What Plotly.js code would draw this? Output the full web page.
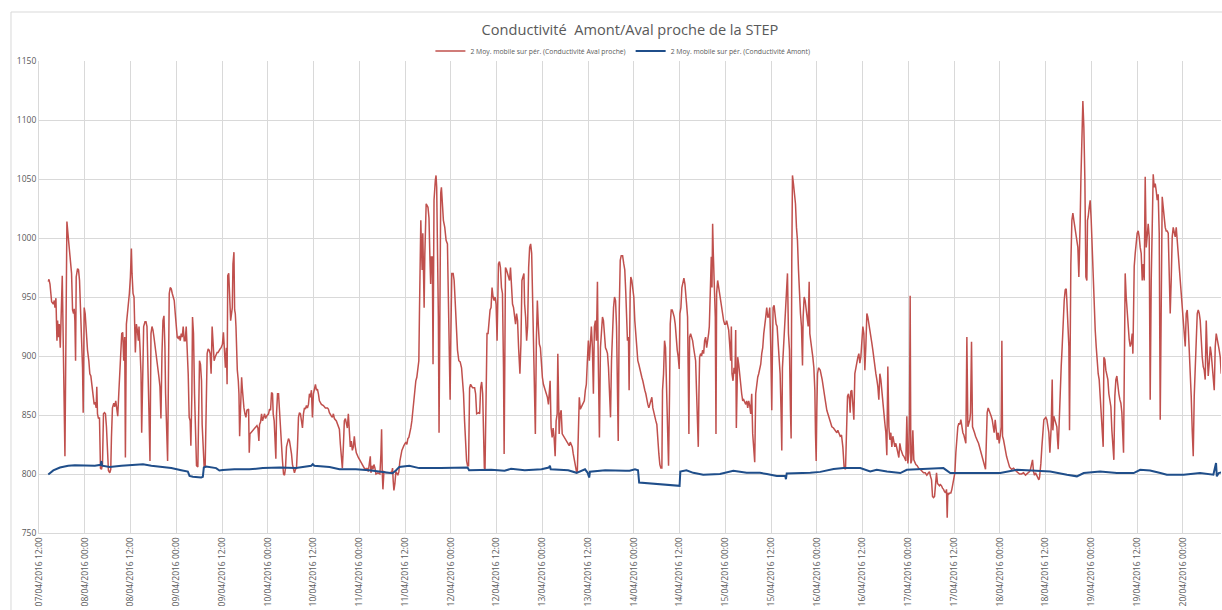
<!DOCTYPE html>
<html><head><meta charset="utf-8">
<script src="https://cdn.plot.ly/plotly-3.0.1.min.js"></script>
<style>html,body{margin:0;padding:0;background:#fff}#chart{width:1222px;height:610px}</style>
</head><body><div id="chart"></div>
<script>
const chartTitle = 'Conductivité\u00a0 Amont/Aval proche de la STEP';
const seriesNames = ['2 Moy. mobile sur pér. (Conductivité Aval proche)', '2 Moy. mobile sur pér. (Conductivité Amont)'];
const startLabel = '07/04/2016 12:00';   // hours below are counted from this time
const rangeHours = 310;
const tickLabels = ['07/04/2016 12:00','08/04/2016 00:00','08/04/2016 12:00','09/04/2016 00:00','09/04/2016 12:00','10/04/2016 00:00','10/04/2016 12:00','11/04/2016 00:00','11/04/2016 12:00','12/04/2016 00:00','12/04/2016 12:00','13/04/2016 00:00','13/04/2016 12:00','14/04/2016 00:00','14/04/2016 12:00','15/04/2016 00:00','15/04/2016 12:00','16/04/2016 00:00','16/04/2016 12:00','17/04/2016 00:00','17/04/2016 12:00','18/04/2016 00:00','18/04/2016 12:00','19/04/2016 00:00','19/04/2016 12:00','20/04/2016 00:00'];
const yTicks = [750,800,850,900,950,1000,1050,1100,1150];

// [hours since start, conductivity]
const avalProche = [[2.44,963],[2.61,965],[2.88,961],[3.31,946],[3.75,944],[4.01,947],[4.18,941],[4.44,949],[4.71,913],[4.88,930],[5.05,916],[5.32,927],[5.58,907],[5.93,968],[6.10,968],[6.80,815],[7.32,1014],[7.67,1001],[8.10,984],[8.54,970],[8.80,939],[9.06,936],[9.24,940],[9.41,930],[9.59,896],[9.76,967],[10.11,974],[10.37,973],[10.63,964],[10.89,944],[11.16,919],[11.42,890],[11.59,852],[11.85,941],[12.11,936],[12.46,916],[12.72,905],[13.07,896],[13.33,885],[13.60,883],[13.94,874],[14.21,862],[14.47,859],[14.73,861],[14.99,856],[15.16,874],[15.34,851],[15.60,847],[15.86,848],[16.12,805],[16.38,804],[16.65,808],[16.91,851],[17.17,852],[17.43,851],[17.69,840],[17.95,811],[18.21,803],[18.56,801],[18.82,804],[19.00,831],[19.26,856],[19.61,860],[19.87,857],[20.13,862],[20.39,855],[20.65,849],[20.92,868],[21.18,889],[21.44,899],[21.70,919],[21.96,920],[22.22,896],[22.48,916],[22.66,814],[22.92,927],[23.18,936],[23.44,941],[23.70,953],[23.97,967],[24.23,991],[24.40,970],[24.66,953],[24.92,950],[25.10,919],[25.27,903],[25.54,927],[25.80,922],[26.06,913],[26.23,925],[26.49,907],[26.75,885],[26.93,835],[27.19,899],[27.45,925],[27.80,929],[28.06,929],[28.32,925],[28.59,896],[28.85,851],[29.11,811],[29.37,919],[29.63,925],[29.89,922],[30.15,916],[30.50,907],[30.85,902],[31.20,890],[31.46,882],[31.72,874],[31.98,847],[32.25,902],[32.51,930],[32.77,934],[33.03,907],[33.20,868],[33.47,834],[33.73,811],[33.99,896],[34.16,953],[34.42,958],[34.69,957],[34.95,953],[35.21,950],[35.47,947],[35.73,936],[35.99,922],[36.25,916],[36.52,915],[36.78,917],[37.04,913],[37.30,919],[37.56,916],[37.82,925],[38.08,913],[38.35,913],[38.61,925],[38.87,907],[39.13,885],[39.39,848],[39.65,845],[39.83,824],[40.09,868],[40.26,933],[40.52,919],[40.79,868],[41.05,834],[41.31,807],[41.66,806],[41.92,868],[42.09,896],[42.35,893],[42.62,879],[42.79,842],[43.05,817],[43.31,806],[43.58,806],[43.84,868],[44.10,902],[44.36,906],[44.62,905],[44.88,902],[45.14,885],[45.41,925],[45.67,907],[45.93,896],[46.19,899],[46.45,902],[46.71,903],[46.97,903],[47.24,905],[47.50,906],[47.76,907],[48.11,910],[48.37,920],[48.63,896],[48.89,890],[49.15,907],[49.33,876],[49.50,968],[49.76,970],
[50.26,930],[50.52,936],[50.70,941],[50.87,978],[51.13,988],[51.31,939],[51.48,936],[51.66,925],[51.83,899],[52.01,888],[52.27,879],[52.44,868],[52.62,832],[52.88,856],[53.14,882],[53.31,873],[53.49,862],[53.75,856],[54.01,851],[54.27,848],[54.53,854],[54.97,855],[55.14,818],[55.32,834],[55.58,835],[56.10,837],[56.63,839],[57.15,841],[57.41,839],[57.67,828],[57.85,842],[58.11,844],[58.37,851],[58.63,845],[58.89,848],[59.16,851],[59.42,847],[59.68,849],[60.20,851],[60.46,855],[60.73,854],[60.99,869],[61.25,868],[61.42,851],[61.68,845],[61.86,834],[62.12,813],[62.30,851],[62.56,868],[62.82,868],[63.08,851],[63.34,831],[63.60,825],[63.86,811],[64.13,800],[64.39,799],[64.65,805],[64.91,823],[65.17,828],[65.43,830],[65.70,828],[65.96,823],[66.22,817],[66.48,808],[66.74,805],[67.00,801],[67.27,804],[67.53,805],[67.79,823],[68.05,848],[68.31,852],[68.57,851],[68.84,845],[69.10,839],[69.36,851],[69.62,856],[69.88,855],[70.14,858],[70.40,856],[70.67,859],[70.93,868],[71.19,865],[71.45,871],[71.71,848],[71.97,868],[72.24,873],[72.50,876],[72.76,871],[73.02,872],[73.28,868],[73.54,862],[74.07,859],[74.59,858],[75.11,856],[75.64,856],[75.90,855],[76.16,852],[76.68,849],[76.94,848],[77.21,851],[77.47,847],[77.99,845],[78.25,842],[78.51,841],[78.78,838],[79.04,825],[79.30,811],[79.56,805],[79.82,823],[80.08,845],[80.35,847],[80.61,842],[80.87,839],[81.13,851],[81.39,839],[81.65,823],[81.92,828],[82.18,820],[82.44,823],[82.70,832],[82.96,823],[83.22,818],[83.75,814],[84.27,811],[84.79,808],[85.32,805],[85.84,804],[86.10,805],[86.36,802],[86.62,807],[86.89,815],[87.06,801],[87.32,807],[87.58,804],[87.84,808],[88.11,805],[88.37,800],[88.89,801],[89.41,800],[89.68,817],[89.85,838],[90.02,802],[90.20,787],[90.46,802],[90.98,801],[91.51,801],[92.03,801],[92.55,802],[92.73,805],[92.90,794],[93.08,786],[93.34,792],[93.60,802],[94.12,799],[94.38,802],[94.65,811],[94.91,817],[95.17,820],[95.69,824],[96.22,827],[96.48,825],[96.74,830],[97.00,831],[97.26,834],[97.52,839],[97.79,845],[98.05,854],[98.31,862],[98.57,871],[98.83,879],[99.09,882],[99.36,890],[99.62,896],[99.79,939],[99.97,981],[100.14,1015],[100.31,992],[100.49,973],[100.66,1004],[100.84,981],[101.01,941],[101.19,986],[101.36,1024],[101.54,1029],
[102.02,1026],[102.28,1017],[102.54,981],[102.72,961],[102.90,984],[103.16,984],[103.34,893],[103.60,1032],[103.95,1049],[104.13,1053],[104.30,1043],[104.57,995],[104.74,933],[104.92,835],[105.18,981],[105.36,1038],[105.54,1043],[105.80,1032],[106.06,1015],[106.42,1009],[106.77,998],[107.12,995],[107.38,953],[107.65,910],[107.82,863],[108.00,913],[108.26,970],[108.62,970],[108.88,964],[109.14,947],[109.41,925],[109.76,905],[110.11,896],[110.46,895],[110.82,890],[111.08,879],[111.34,868],[111.61,845],[111.87,825],[112.14,811],[112.40,807],[112.66,807],[112.93,873],[113.19,876],[113.72,873],[114.25,873],[114.51,868],[114.78,851],[115.30,852],[115.57,851],[115.83,873],[116.10,878],[116.36,868],[116.62,825],[116.80,805],[116.98,804],[117.15,839],[117.33,896],[117.50,919],[117.77,919],[118.03,933],[118.30,939],[118.56,941],[118.82,958],[119.09,950],[119.35,947],[119.62,950],[119.88,944],[120.14,913],[120.32,953],[120.50,978],[120.76,980],[121.02,975],[121.29,958],[121.55,953],[121.82,890],[121.99,817],[122.17,896],[122.34,975],[122.61,973],[123.14,967],[123.40,964],[123.66,975],[123.93,961],[124.19,944],[124.46,941],[124.72,933],[124.98,927],[125.25,936],[125.51,930],[125.78,907],[125.95,890],[126.13,885],[126.39,910],[126.66,964],[126.92,967],[127.18,970],[127.36,944],[127.62,933],[127.89,913],[128.15,925],[128.42,975],[128.68,992],[128.94,995],[129.21,987],[129.47,947],[129.74,896],[130.00,868],[130.18,834],[130.44,913],[130.70,947],[130.97,925],[131.23,910],[131.50,907],[131.76,893],[132.02,882],[132.29,876],[132.55,873],[132.82,869],[133.08,868],[133.34,865],[133.61,859],[133.87,871],[134.05,879],[134.31,839],[134.58,831],[134.84,839],[135.10,831],[135.37,815],[135.63,845],[135.90,851],[136.07,902],[136.25,868],[136.42,834],[136.69,851],[136.95,854],[137.22,834],[137.74,831],[138.27,828],[138.80,825],[139.06,824],[139.33,827],[139.59,825],[139.86,823],[140.12,817],[140.38,811],[140.65,805],[140.91,803],[141.18,801],[141.35,825],[141.53,862],[141.70,865],[141.97,855],[142.50,858],[143.02,862],[143.29,871],[143.55,876],[143.82,896],[144.08,913],[144.34,896],[144.61,919],[144.87,925],[145.14,907],[145.40,868],[145.66,925],[145.93,930],[146.19,913],[146.46,963],[146.63,907],[146.81,873],[146.98,831],[147.25,907],[147.51,927],[147.78,933],[148.04,930],[148.30,919],[148.57,907],[148.83,905],[149.10,902],[149.36,890],[149.62,868],[149.89,848],[150.15,896],[150.42,930],[150.68,941],[150.94,950],[151.21,947],[151.47,925],[151.74,868],[151.91,828],[152.18,939],[152.44,981],[152.70,985],[153.06,985],
[153.37,978],[153.63,973],[153.90,953],[154.07,925],[154.33,913],[154.60,916],[154.77,871],[155.04,953],[155.21,967],[155.47,964],[155.74,953],[156.00,950],[156.26,930],[156.52,919],[156.79,905],[157.05,896],[157.31,893],[157.58,890],[157.84,885],[158.10,882],[158.36,879],[158.63,873],[158.89,871],[159.15,868],[159.42,862],[159.68,859],[159.94,856],[160.20,859],[160.47,862],[160.73,865],[160.99,856],[161.26,851],[161.52,848],[161.78,845],[162.04,842],[162.31,825],[162.57,817],[162.83,808],[163.09,805],[163.36,805],[163.53,871],[163.80,885],[164.06,913],[164.32,907],[164.58,868],[164.85,817],[165.11,807],[165.37,868],[165.55,927],[165.81,939],[166.07,939],[166.34,936],[166.60,933],[166.86,927],[167.12,913],[167.39,905],[167.65,899],[167.91,889],[168.09,936],[168.35,941],[168.61,958],[168.88,964],[169.14,966],[169.40,961],[169.66,953],[169.84,944],[170.10,933],[170.28,868],[170.45,834],[170.63,916],[170.89,919],[171.15,916],[171.42,913],[171.68,907],[171.94,902],[172.21,896],[172.47,868],[172.73,845],[172.91,823],[173.08,868],[173.26,899],[173.52,902],[173.78,900],[174.05,905],[174.31,902],[174.57,913],[174.83,916],[175.10,907],[175.36,912],[175.62,919],[175.80,925],[175.97,947],[176.15,967],[176.32,984],[176.50,958],[176.67,1012],[176.85,987],[177.11,967],[177.37,933],[177.55,834],[177.72,953],[177.99,964],[178.25,958],[178.51,953],[178.78,950],[179.04,944],[179.30,936],[179.56,930],[179.83,927],[180.09,927],[180.35,930],[180.61,927],[180.88,922],[181.14,910],[181.40,896],[181.58,925],[181.75,885],[182.02,879],[182.28,890],[182.54,885],[182.72,922],[182.89,839],[183.07,896],[183.24,899],[183.51,893],[183.77,882],[184.03,871],[184.29,868],[184.56,862],[184.82,863],[185.08,861],[185.35,859],[185.61,862],[185.87,856],[186.13,862],[186.40,858],[186.66,851],[186.92,868],[187.18,834],[187.45,817],[187.71,810],[187.97,868],[188.24,879],[188.50,882],[188.76,885],[189.02,888],[189.29,893],[189.55,902],[189.81,907],[190.08,919],[190.34,930],[190.60,933],[190.86,941],[191.13,933],[191.39,933],[191.65,941],[191.92,907],[192.18,854],[192.35,902],[192.53,941],[192.79,943],[193.05,933],[193.32,927],[193.58,925],[193.84,913],[194.11,896],[194.37,885],[194.63,851],[194.81,820],[194.98,890],[195.24,905],[195.51,927],[195.77,939],[196.03,953],[196.30,970],[196.56,919],[196.82,905],[197.08,854],[197.26,830],[197.43,981],[197.61,1053],[197.87,1046],[198.13,1035],[198.40,1029],[198.66,1009],[198.92,998],[199.19,973],[199.45,947],[199.71,936],[199.97,925],[200.24,892],[200.41,933],[200.68,950],[200.94,947],[201.20,939],[201.46,933],[201.73,925],[201.99,963],[202.16,919],[202.43,912],[202.69,907],[202.95,899],[203.22,890],[203.48,871],[203.65,834],[203.83,811],[204.00,854],[204.18,885],[204.44,890],[204.71,888],
[204.88,888],[205.40,880],[205.75,871],[206.19,863],[206.62,854],[207.06,849],[207.50,846],[207.94,840],[208.37,839],[208.81,837],[209.25,835],[209.51,837],[209.77,835],[210.12,832],[210.47,833],[210.82,823],[211.17,805],[211.52,804],[211.78,835],[212.05,866],[212.31,868],[212.57,863],[212.74,852],[212.92,870],[213.18,871],[213.44,857],[213.71,846],[213.97,885],[214.23,891],[214.49,894],[214.76,899],[215.02,902],[215.28,894],[215.54,899],[215.80,913],[216.07,925],[216.33,919],[216.59,888],[216.85,908],[217.12,936],[217.38,933],[217.64,928],[217.90,925],[218.17,919],[218.43,911],[218.69,905],[218.95,897],[219.21,891],[219.48,885],[219.74,880],[220.00,874],[220.26,863],[220.53,885],[220.79,880],[221.05,868],[221.31,863],[221.58,852],[221.84,843],[222.10,835],[222.36,816],[222.62,891],[222.89,840],[223.15,829],[223.41,835],[223.67,823],[223.94,832],[224.20,826],[224.46,823],[224.72,826],[224.98,823],[225.25,818],[225.51,814],[225.77,826],[226.03,821],[226.30,818],[226.56,816],[226.82,815],[227.08,812],[227.35,811],[227.61,849],[227.87,809],[228.13,818],[228.31,852],[228.48,951],[228.66,809],[228.92,812],[229.18,837],[229.44,812],[229.71,809],[229.97,808],[230.32,807],[230.67,805],[231.11,804],[231.54,802],[231.98,801],[232.42,801],[232.85,799],[233.29,801],[233.55,802],[233.81,798],[234.08,795],[234.34,781],[234.60,780],[234.87,781],[235.13,795],[235.39,801],[235.65,792],[235.91,791],[236.18,790],[236.44,791],[236.70,790],[236.96,788],[237.23,787],[237.49,785],[237.75,784],[238.01,787],[238.19,763],[238.36,784],[238.62,783],[238.89,784],[239.15,784],[239.41,787],[239.67,791],[239.93,795],[240.20,801],[240.46,818],[240.72,835],[240.98,840],[241.25,843],[241.51,842],[241.77,846],[242.03,840],[242.30,835],[242.56,833],[242.82,829],[243.08,826],[243.35,916],[243.61,840],[243.87,843],[244.13,846],[244.31,852],[244.57,912],[244.83,840],[245.10,838],[245.36,835],[245.62,832],[245.88,829],[246.14,828],[246.41,826],[246.67,823],[246.93,821],[247.19,818],[247.46,815],[247.72,812],[247.98,809],[248.24,804],[248.42,823],[248.68,852],[248.94,856],[249.20,854],[249.47,852],[249.73,849],[249.99,846],[250.25,840],[250.51,835],[250.78,846],[251.04,837],[251.30,829],[251.56,835],[251.83,826],[252.09,832],[252.35,840],[252.53,913],[252.70,832],[252.96,829],[253.23,823],[253.49,818],[253.75,815],[254.01,812],[254.28,809],[254.54,806],[255.06,804],[255.59,805],[256.11,803],[256.64,801],[257.16,800],[257.68,800],[258.21,801],[258.73,799],[259.26,801],[259.78,802],[260.04,804],[260.31,807],[260.57,812],[260.83,802],[261.09,799],[261.36,801],[261.71,798],[261.97,797],[262.23,795],[262.41,797],[262.58,801],[262.76,809],[263.02,823],[263.28,837],[263.54,846],[263.80,847],[264.07,848],[264.33,846],[264.59,840],[264.85,835],[265.12,818],[265.29,832],[265.47,840],[265.73,880],[265.90,837],[266.16,849],[266.43,846],[266.69,843],[266.95,840],[267.13,829],[267.30,821],[267.56,843],[267.83,880],[268.09,891],[268.35,908],[268.61,930],[268.88,947],[269.14,956],[269.40,957],[269.57,947],[269.84,930],[270.10,908],[270.27,837],[270.45,930],[270.62,978],[270.89,1015],[271.15,1021],[271.41,1015],[271.67,1009],[271.93,1004],[272.20,998],[272.46,992],[272.72,967],[272.90,987],[273.07,1015],[273.25,1049],[273.51,1091],[273.77,1116],[274.03,1094],[274.30,1049],[274.56,967],[274.82,964],[274.99,1015],[275.17,1018],[275.43,1026],[275.69,1032],[275.96,1015],[276.22,992],[276.48,953],[276.74,947],[277.01,922],[277.27,908],[277.53,894],[277.79,885],[278.05,880],[278.32,866],[278.58,852],[278.84,837],[279.10,823],[279.28,899],[279.54,897],[279.80,888],[280.07,885],[280.33,880],[280.59,868],[280.85,863],[281.12,857],[281.38,837],[281.64,823],[281.90,812],[282.16,866],[282.43,880],[282.69,883],[282.95,874],[283.21,868],[283.48,863],[283.74,860],[284.00,852],[284.26,823],[284.44,818],[284.70,908],[284.87,970],[285.14,950],[285.40,936],[285.66,919],[285.92,914],[286.19,908],[286.45,911],[286.71,919],[286.89,902],[287.06,936],[287.24,976],[287.50,987],[287.76,998],[288.02,1004],[288.29,1006],[288.55,1001],[288.81,992],[289.07,987],[289.34,964],[289.60,978],[289.86,964],[290.12,1052],[290.39,992],[290.65,1004],[290.91,1012],[291.17,1001],[291.43,863],[291.70,964],[291.96,1006],[292.22,1054],[292.48,1043],[292.75,1046],[293.01,1040],[293.27,1032],[293.53,1037],[293.80,1004],[294.06,846],[294.32,978],[294.58,1035],[294.85,1026],[295.11,1015],[295.37,1009],[295.63,1006],[295.89,1006],[296.16,1004],[296.42,964],[296.68,936],[296.94,964],[297.21,1001],[297.47,1009],[297.73,1006],[297.99,1001],[298.26,1009],[298.52,998],[298.78,987],[299.04,976],[299.30,964],[299.57,950],[299.83,936],[300.09,925],[300.35,919],[300.62,908],[300.88,936],[301.14,939],[301.40,925],[301.67,908],[301.93,894],[302.19,866],[302.45,837],[302.72,815],[302.98,866],[303.24,891],[303.50,928],[303.77,936],[304.03,939],[304.29,936],[304.55,930],[304.82,908],[305.08,899],[305.34,891],[305.60,888],[305.86,880],[306.13,930],[306.39,902],[306.65,883],[306.91,894],[307.18,908],[307.44,902],[307.70,891],[307.96,880],[308.23,871],[308.49,908],[308.75,919],[308.92,916],[309.27,911],[309.53,905],[309.80,899],[310.06,885]];

const amont = [[2.44,799.5],[3.75,803],[5.49,805.5],[7.67,807],[9.41,807.5],[12.03,807.5],[14.64,807],[16.2,807.8],[16.38,811],[16.56,807],[18.56,806],[21.61,807],[25.10,808],[27.28,808.3],[29.46,807],[32.07,806],[34.69,805],[37.30,803.2],[39.04,802],[39.48,798.4],[40.35,797.6],[42.53,797],[42.97,797.6],[43.23,805.5],[43.84,806.4],[46.45,805],[47.32,803],[48.19,803.3],[51.24,804],[55.2,804],[58.7,805],[63.1,805.5],[67.4,805],[71.4,807],[71.8,808.3],[72.2,807],[76.2,806],[78.8,804],[83.1,804],[86.6,803.2],[89.2,802],[92.7,800.7],[93.6,803],[94.5,806],[97.1,807],[99.7,805],[105.4,805],[112.4,805.5],[112.8,803.2],[118.6,803.5],[122.1,802.7],[123.8,804.4],[127.4,803.2],[131.8,804],[133.7,805.5],[134.0,807],[134.2,804],[138.8,803.2],[141.0,801],[143.2,804],[143.9,801],[144.3,797],[144.5,802],[148.5,803.2],[153.8,802.7],[154.9,802.7],[156.3,804],[157.1,803.2],[157.4,792.8],[161.1,792],[164.6,791],[167.6,790],[168.0,790],[168.2,802],[169.8,803.2],[171.6,801],[174.2,799.4],[178.6,800],[182.1,802.7],[185.6,801],[189.1,801],[190.9,800],[193.5,798.4],[195.7,798.4],[195.9,795.6],[196.1,800.5],[199.6,800.5],[202.3,801],[204.9,801.8],[208.4,804.2],[211.0,805],[215.4,805],[218.0,802.2],[219.7,803.6],[222.4,802.2],[225.9,800.8],[227.6,803.6],[231.1,804.2],[234.6,805],[237.2,805],[239.0,800.8],[243.3,800.8],[247.7,800.8],[252.1,800.8],[256.5,803.6],[260.8,803],[265.2,802.2],[269.6,799.4],[272.2,798],[274.0,800.8],[278.3,802.2],[282.7,800.8],[287.1,800.8],[288.8,803.6],[291.4,803],[294.1,800.8],[295.8,799.4],[300.2,799.4],[304.5,800.8],[308.0,799.4],[308.7,809.3],[308.9,798],[309.4,800.8],[310.3,801.4]];

function labelToIso(s){ // 'dd/mm/yyyy hh:mm' -> 'yyyy-mm-dd hh:mm:00'
  const [d, t] = s.split(' '); const [dd, mm, yy] = d.split('/');
  return yy + '-' + mm + '-' + dd + ' ' + t + ':00';
}
const startMs = Date.parse(labelToIso(startLabel).replace(' ', 'T') + 'Z');
function hoursToIso(h){ return new Date(startMs + Math.round(h*3600000)).toISOString().slice(0,19).replace('T',' '); }

const txt = '#595959', grid = '#D9D9D9';
const traces = [
  {x: avalProche.map(p => hoursToIso(p[0])), y: avalProche.map(p => p[1]), name: seriesNames[0], type: 'scatter', mode: 'lines', line: {color: '#C0504D', width: 1.5}},
  {x: amont.map(p => hoursToIso(p[0])), y: amont.map(p => p[1]), name: seriesNames[1], type: 'scatter', mode: 'lines', line: {color: '#1F4E8A', width: 2}}
];
const layout = {
  width: 1222, height: 610,
  margin: {l: 39, r: 1, t: 61, b: 77, pad: 0},
  paper_bgcolor: '#fff', plot_bgcolor: '#fff',
  font: {family: 'Open Sans, sans-serif', color: txt},
  title: {text: chartTitle, font: {size: 14.6, color: txt}, x: 0.5, xref: 'paper', xanchor: 'center', y: 0.951, yref: 'container', yanchor: 'middle'},
  showlegend: true,
  legend: {orientation: 'h', x: 0.494, xanchor: 'center', y: 1.021, yanchor: 'middle', font: {size: 6.8, color: txt}, itemwidth: 30, bgcolor: 'rgba(0,0,0,0)'},
  xaxis: {type: 'date', range: [hoursToIso(0), hoursToIso(rangeHours)], tickvals: tickLabels.map(labelToIso), ticktext: tickLabels,
          tickangle: -90, tickfont: {size: 8.5, color: txt}, showgrid: true, gridcolor: grid, gridwidth: 1,
          showline: true, linecolor: grid, linewidth: 1, ticks: '', zeroline: false, fixedrange: true},
  yaxis: {range: [750, 1150], tickvals: yTicks, tickfont: {size: 8.5, color: txt}, showgrid: true, gridcolor: grid, gridwidth: 1,
          showline: true, linecolor: grid, linewidth: 1, ticks: '', zeroline: false, fixedrange: true},
  shapes: [{type: 'rect', xref: 'paper', yref: 'paper', x0: -0.0237, x1: 1.05, y0: -0.3, y1: 1.1038, line: {color: grid, width: 1}, fillcolor: 'rgba(0,0,0,0)', layer: 'below'}],
  hovermode: false
};
Plotly.newPlot('chart', traces, layout, {displayModeBar: false, staticPlot: true});
</script>
</body></html>
